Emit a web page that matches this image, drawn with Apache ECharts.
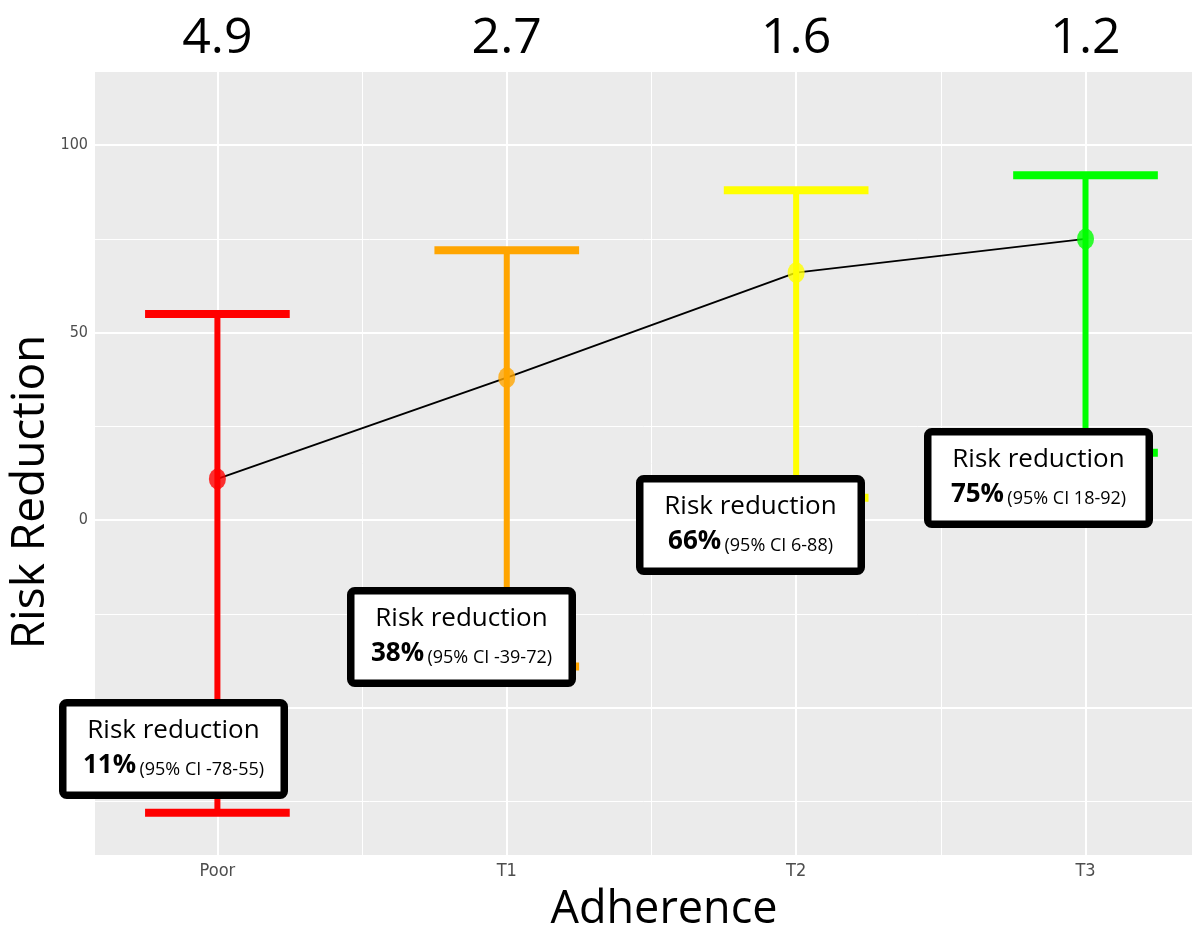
<!DOCTYPE html>
<html>
<head>
<meta charset="utf-8">
<script src="https://cdn.jsdelivr.net/npm/echarts@6/dist/echarts.min.js"></script>
<style>
html,body{margin:0;padding:0;background:#fff;}
#chart{width:1194px;height:928px;}
</style>
</head>
<body>
<div id="chart"></div>
<script>
// ---- data ----
const categories = ['Poor', 'T1', 'T2', 'T3'];
const estimates = [11, 38, 66, 75];
const lowerCI = [-78, -39, 6, 18];
const upperCI = [55, 72, 88, 92];
const topLabels = ['4.9', '2.7', '1.6', '1.2'];
const barColors = ['#FF0000', '#FFA500', '#FFFF00', '#00FF00'];
const yTickValues = [-50, 0, 50, 100];
const yMinorValues = [-75, -25, 25, 75];
const xTickValues = [0, 1, 2, 3];
const xMinorValues = [0.5, 1.5, 2.5];
const boxTitle = 'Risk reduction';

// ---- layout ----
const X_MIN = -0.423, X_MAX = 3.368;
const Y_MIN = -89.3, Y_MAX = 119.5;
const boxPos = [[59, 699], [347, 587], [636, 475], [924, 428]];
const BOX_W = 229, BOX_H = 100, BOX_LW = 7.5;
const NARROW = "'Liberation Sans Narrow', 'DejaVu Sans Condensed', 'Liberation Sans', sans-serif";
const MAINFONT = "'Open Sans', 'Noto Sans', sans-serif";

const chart = echarts.init(document.getElementById('chart'));

const gridLines = [];
yTickValues.forEach(v => gridLines.push({ yAxis: v, lineStyle: { width: 2 } }));
yMinorValues.forEach(v => gridLines.push({ yAxis: v, lineStyle: { width: 1 } }));
xTickValues.forEach(v => gridLines.push({ xAxis: v, lineStyle: { width: 2 } }));
xMinorValues.forEach(v => gridLines.push({ xAxis: v, lineStyle: { width: 1 } }));

const errData = categories.map((c, i) => [i, lowerCI[i], upperCI[i]]);
const pointData = categories.map((c, i) => ({ value: [i, estimates[i]], itemStyle: { color: barColors[i] } }));
const lineData = categories.map((c, i) => [i, estimates[i]]);

const graphics = [];
boxPos.forEach((p, i) => {
  const cx = p[0] + BOX_W / 2;
  graphics.push({
    type: 'rect', z: 100,
    shape: { x: p[0] + BOX_LW / 2, y: p[1] + BOX_LW / 2, width: BOX_W - BOX_LW, height: BOX_H - BOX_LW, r: 4 },
    style: { fill: '#fff', stroke: '#000', lineWidth: BOX_LW }
  });
  graphics.push({
    type: 'text', z: 101, x: cx, y: p[1] + 32,
    style: { text: boxTitle, font: '26px ' + MAINFONT, fill: '#000', align: 'center', verticalAlign: 'middle' }
  });
  graphics.push({
    type: 'text', z: 101, x: cx, y: p[1] + 67,
    style: {
      text: '{b|' + estimates[i] + '%} {s|(95% CI ' + lowerCI[i] + '-' + upperCI[i] + ')}',
      align: 'center', verticalAlign: 'middle', fill: '#000',
      rich: {
        b: { fontFamily: MAINFONT, fontSize: 26, fontWeight: 'bold', fill: '#000', verticalAlign: 'bottom' },
        s: { fontFamily: MAINFONT, fontSize: 18, fill: '#000', verticalAlign: 'bottom' }
      }
    }
  });
});
graphics.push({
  type: 'text', z: 50, x: 31, y: 492, rotation: Math.PI / 2,
  style: { text: 'Risk Reduction', font: '46px ' + MAINFONT, fill: '#000', align: 'center', verticalAlign: 'middle' }
});
graphics.push({
  type: 'text', z: 50, x: 664, y: 910,
  style: { text: 'Adherence', font: '45px ' + MAINFONT, fill: '#000', align: 'center', verticalAlign: 'middle' }
});

chart.setOption({
  animation: false,
  backgroundColor: '#fff',
  grid: { z: 0, left: 95, right: 2, top: 72, bottom: 73, show: true, backgroundColor: '#EBEBEB', borderWidth: 0, containLabel: false },
  xAxis: [{
    type: 'value', min: X_MIN, max: X_MAX, position: 'bottom',
    axisLine: { show: false },
    splitLine: { show: false },
    axisTick: { show: true, customValues: xTickValues, length: 4, lineStyle: { color: '#333', width: 1 } },
    axisLabel: { customValues: xTickValues, formatter: v => categories[Math.round(v)], fontFamily: NARROW, fontSize: 18, color: '#4D4D4D', margin: 7 }
  }, {
    type: 'value', min: X_MIN, max: X_MAX, position: 'top',
    axisLine: { show: false }, splitLine: { show: false },
    axisTick: { show: false },
    axisLabel: { customValues: xTickValues, formatter: v => topLabels[Math.round(v)], fontFamily: MAINFONT, fontSize: 50, color: '#000', margin: 8 }
  }],
  yAxis: {
    type: 'value', min: Y_MIN, max: Y_MAX,
    axisLine: { show: false },
    splitLine: { show: false },
    axisTick: { show: true, customValues: yTickValues, length: 4, lineStyle: { color: '#333', width: 1 } },
    axisLabel: { customValues: yTickValues, fontFamily: NARROW, fontSize: 16, color: '#4D4D4D', margin: 7 }
  },
  series: [{
    type: 'line', data: [], z: 1, silent: true,
    markLine: { z: 1, silent: true, symbol: ['none', 'none'], label: { show: false }, animation: false,
      lineStyle: { color: '#FFFFFF', type: 'solid' }, emphasis: { disabled: true }, data: gridLines }
  }, {
    type: 'line', data: lineData, z: 10, symbol: 'none', silent: true,
    lineStyle: { color: '#000', width: 2 }
  }, {
    type: 'custom', z: 11, data: errData, silent: true,
    renderItem: function (params, api) {
      const i = api.value(0);
      const lo = api.coord([i, api.value(1)]);
      const hi = api.coord([i, api.value(2)]);
      const l1 = api.coord([i - 0.25, api.value(1)]);
      const r1 = api.coord([i + 0.25, api.value(1)]);
      const l2 = api.coord([i - 0.25, api.value(2)]);
      const r2 = api.coord([i + 0.25, api.value(2)]);
      const col = barColors[i];
      return { type: 'group', children: [
        { type: 'line', shape: { x1: lo[0], y1: lo[1], x2: hi[0], y2: hi[1] }, style: { stroke: col, lineWidth: 6 } },
        { type: 'line', shape: { x1: l1[0], y1: l1[1], x2: r1[0], y2: r1[1] }, style: { stroke: col, lineWidth: 8 } },
        { type: 'line', shape: { x1: l2[0], y1: l2[1], x2: r2[0], y2: r2[1] }, style: { stroke: col, lineWidth: 8 } }
      ]};
    }
  }, {
    type: 'scatter', z: 12, data: pointData, symbol: 'circle', symbolSize: [17, 21], silent: true
  }],
  graphic: graphics
});
</script>
</body>
</html>
